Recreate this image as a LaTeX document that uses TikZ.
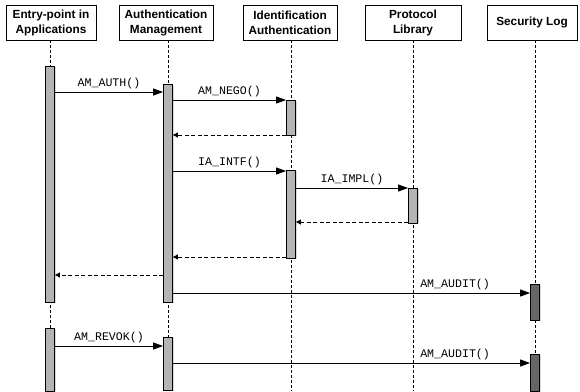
\documentclass[tikz,border=0pt]{standalone}
\usepackage{fontspec}
\setmainfont{Liberation Sans}
\newfontfamily\msgfont{Liberation Mono}
\usetikzlibrary{arrows.meta,shadows}

\tikzset{
    head/.style={draw, line width=0.8pt, fill=white, font=\bfseries\fontsize{11.8}{15}\selectfont,
        align=center, minimum width=90pt, minimum height=35pt, inner sep=1pt,
        drop shadow={shadow xshift=1.2pt, shadow yshift=-1.2pt, fill=black!35}},
    bar/.style={draw, line width=0.8pt, fill=barColour, minimum width=9pt, inner sep=0pt, anchor=north,
        drop shadow={shadow xshift=1pt, shadow yshift=-1pt, fill=black!30}},
    logbar/.style={bar, fill=logColour},
    life/.style={dashed, line width=0.8pt, dash pattern=on 3pt off 2pt},
    call/.style={line width=0.9pt, -{Triangle[length=10pt,width=7pt]}},
    back/.style={line width=0.9pt, dashed, dash pattern=on 4pt off 2.5pt, -{Triangle[length=5pt,width=5pt]}},
    msg/.style={font=\msgfont\fontsize{11.6}{13}\selectfont, inner sep=1pt}
}

\begin{document}
\begin{tikzpicture}[x=1pt, y=-1pt]
    \definecolor{barColour}{HTML}{B4B4B4}
    \definecolor{logColour}{HTML}{666666}

    \useasboundingbox (0,0) rectangle (580,391);

    \def\bottom{391}

    % participants
    \node[head] (app)   at (51,22.5)  {Entry-point in\\Applications};
    \node[head, minimum width=94pt] (auth)  at (166,22.5) {Authentication\\Management};
    \node[head, minimum width=94pt] (ident) at (290,22.5) {Identification\\Authentication};
    \node[head, minimum width=96pt] (proto) at (413,22.5) {Protocol\\Library};
    \node[head] (sec)   at (532,22.5) {Security Log};

    % lifelines
    \foreach \p/\x in {app/50, auth/168, ident/291, proto/413, sec/535}
        \draw[life] (\p.south -| \x,0) -- (\x,\bottom);

    % activations
    \node[bar, minimum height=236pt] (app1)   at (50,66)   {};
    \node[bar, minimum height=63pt]  (app2)   at (50,328)  {};
    \node[bar, minimum height=218pt] (auth1)  at (168,84)  {};
    \node[bar, minimum height=53pt]  (auth2)  at (168,337) {};
    \node[bar, minimum height=35pt]  (ident1) at (291,100) {};
    \node[bar, minimum height=88pt]  (ident2) at (291,170) {};
    \node[bar, minimum height=35pt]  (proto1) at (413,188) {};
    \node[logbar, minimum height=36pt] (sec1) at (535,284) {};
    \node[logbar, minimum height=37pt] (sec2) at (535,354) {};

    % messages
    \draw[call] (app1.east |- 0,92) -- (auth1.west |- 0,92) node[msg, midway, above=2pt] {AM\_AUTH()};
    \draw[call] (auth1.east |- 0,100) -- (ident1.north west) node[msg, midway, above=2pt] {AM\_NEGO()};
    \draw[back] (ident1.west |- 0,135) -- (auth1.east |- 0,135);
    \draw[call] (auth1.east |- 0,171) -- (ident2.west |- 0,171) node[msg, midway, above=2pt] {IA\_INTF()};
    \draw[call] (ident2.east |- 0,188) -- (proto1.north west) node[msg, midway, above=2pt] {IA\_IMPL()};
    \draw[back] (proto1.west |- 0,222) -- (ident2.east |- 0,222);
    \draw[back] (ident2.west |- 0,257) -- (auth1.east |- 0,257);
    \draw[back] (auth1.west |- 0,275) -- (app1.east |- 0,275);
    \draw[call] (auth1.east |- 0,293) -- (sec1.west |- 0,293) node[msg, pos=0.79, above=2pt] {AM\_AUDIT()};
    \draw[call] (app2.east |- 0,346) -- (auth2.west |- 0,346) node[msg, midway, above=2pt] {AM\_REVOK()};
    \draw[call] (auth2.east |- 0,363) -- (sec2.west |- 0,363) node[msg, pos=0.79, above=2pt] {AM\_AUDIT()};

\end{tikzpicture}
\end{document}
